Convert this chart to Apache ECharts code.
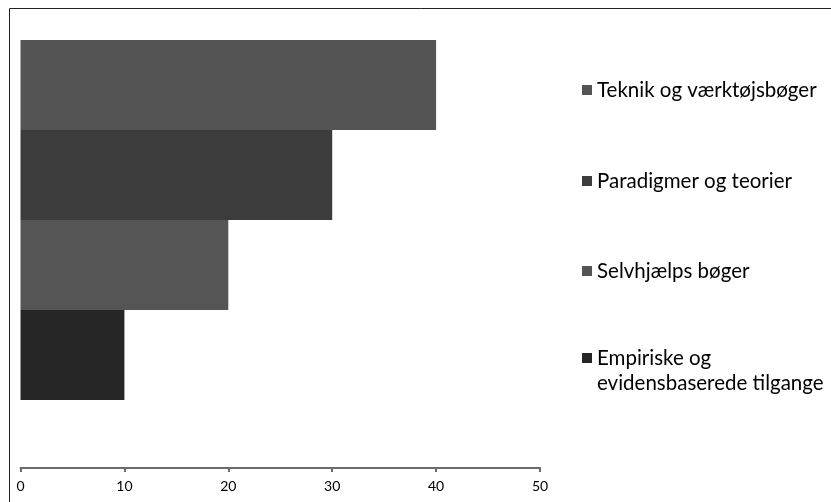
<!DOCTYPE html>
<html>
<head>
<meta charset="utf-8">
<script src="https://cdn.jsdelivr.net/npm/echarts@6/dist/echarts.min.js"></script>
<style>
  html, body { margin: 0; padding: 0; background: #ffffff; }
  #chart { width: 831px; height: 502px; }
</style>
</head>
<body>
<div id="chart"></div>
<script>
// Book categories, in the order the bars run from the top of the band down
const seriesNames = [
  'Teknik og værktøjsbøger',
  'Paradigmer og teorier',
  'Selvhjælps bøger',
  'Empiriske og evidensbaserede tilgange'
];
const seriesValues = [40, 30, 20, 10];
const seriesColors = ['#545454', '#3c3c3c', '#555555', '#262626'];
const categories = [''];
const axisMin = 0;
const axisMax = 50;
const axisStep = 10;

// Vertical centre of the first text line of each legend entry
const legendCentres = [90, 181, 271, 358];

const FONT = 'Lato';
const LINE = 25;
const LONG_NAME = 'Empiriske og evidensbaserede tilgange';

const legends = seriesNames.map((name, i) => {
  const wrapped = name === LONG_NAME;
  return {
    data: [name],
    orient: 'vertical',
    left: 582,
    top: legendCentres[i] - (wrapped ? LINE * 1.5 : LINE / 2),
    padding: 0,
    icon: 'rect',
    itemWidth: 10,
    itemHeight: 10,
    selectedMode: false,
    // the blank first line keeps the marker level with "Empiriske og"
    formatter: wrapped ? () => ' \nEmpiriske og\nevidensbaserede tilgange' : undefined,
    textStyle: {
      fontFamily: FONT,
      fontSize: 20.5,
      color: '#000000',
      lineHeight: LINE
    }
  };
});

const chart = echarts.init(document.getElementById('chart'), null, { renderer: 'canvas' });
chart.setOption({
  animation: false,
  backgroundColor: '#ffffff',
  graphic: [{
    type: 'rect',
    shape: { x: 9.5, y: 8.5, width: 900, height: 600 },
    style: { fill: 'none', stroke: '#222222', lineWidth: 1 },
    silent: true
  }],
  legend: legends,
  grid: { left: 20.5, right: 291, top: 20, bottom: 82, containLabel: false },
  xAxis: {
    type: 'value',
    min: axisMin,
    max: axisMax,
    interval: axisStep,
    offset: 48,
    axisLine: { show: true, lineStyle: { color: '#6b6b6b', width: 2 } },
    axisTick: { show: true, length: 4, lineStyle: { color: '#6b6b6b', width: 2 } },
    splitLine: { show: false },
    axisLabel: { color: '#000000', fontFamily: FONT, fontSize: 14, margin: 11 }
  },
  yAxis: {
    type: 'category',
    data: categories,
    axisLine: { show: false },
    axisTick: { show: false },
    axisLabel: { show: false }
  },
  series: seriesNames.map((name, i) => ({
    name: name,
    type: 'bar',
    data: [seriesValues[i]],
    itemStyle: { color: seriesColors[i] },
    barGap: '0%',
    barCategoryGap: '10%'
  }))
});
</script>
</body>
</html>
